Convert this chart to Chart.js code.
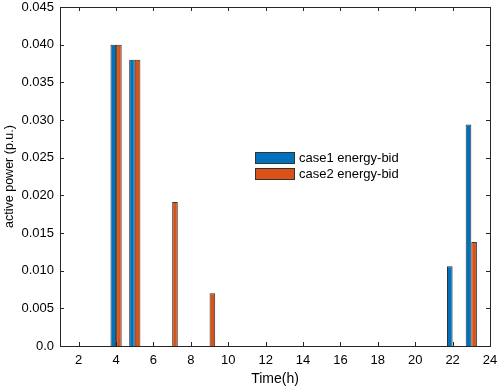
<!DOCTYPE html>
<html>
<head>
<meta charset="utf-8">
<script src="https://cdn.jsdelivr.net/npm/chart.js@4.4.0/dist/chart.umd.min.js"></script>
<style>
    html, body { margin: 0; padding: 0; background: #fff; }
</style>
</head>
<body>
<canvas id="active_power" width="498" height="389"></canvas>
<script>
// hours 1..24
const hours = ['1','2','3','4','5','6','7','8','9','10','11','12','13','14','15','16','17','18','19','20','21','22','23','24'];
const case1Bid = [0, 0, 0, 0.0400, 0.0380, 0, 0, 0, 0, 0, 0, 0, 0, 0, 0, 0, 0, 0, 0, 0, 0, 0.0106, 0.0294, 0];
const case2Bid = [0, 0, 0, 0.0400, 0.0380, 0, 0.0191, 0, 0.0070, 0, 0, 0, 0, 0, 0, 0, 0, 0, 0, 0, 0, 0, 0.0138, 0];
const yTickLabels = ['0.0', '0.005', '0.010', '0.015', '0.020', '0.025', '0.030', '0.035', '0.040', '0.045'];
const seriesNames = ['case1 energy-bid', 'case2 energy-bid'];

const axisColor = '#262626';
const fontFamily = '"Liberation Sans", Arial, sans-serif';

// zero bars are simply not drawn
const noZero = arr => arr.map(v => v === 0 ? null : v);

// matlab style box: top/right border + inward ticks
const boxTicks = {
    id: 'boxTicks',
    afterDraw(chart) {
        const ctx = chart.ctx;
        const a = chart.chartArea;
        const xs = chart.scales.x;
        const ys = chart.scales.y;
        const len = 4;
        ctx.save();
        ctx.strokeStyle = axisColor;
        ctx.lineWidth = 1;
        ctx.beginPath();
        ctx.moveTo(a.left, a.top + 0.5);
        ctx.lineTo(a.right + 0.5, a.top + 0.5);
        ctx.lineTo(a.right + 0.5, a.bottom);
        xs.ticks.forEach((t, i) => {
            if (Number(hours[i]) % 2 !== 0) return;
            const px = Math.round(xs.getPixelForTick(i)) + 0.5;
            ctx.moveTo(px, a.bottom);
            ctx.lineTo(px, a.bottom - len);
            ctx.moveTo(px, a.top);
            ctx.lineTo(px, a.top + len);
        });
        ys.ticks.forEach((t, i) => {
            const py = Math.round(ys.getPixelForTick(i)) + 0.5;
            ctx.moveTo(a.left, py);
            ctx.lineTo(a.left + len, py);
            ctx.moveTo(a.right, py);
            ctx.lineTo(a.right - len, py);
        });
        ctx.stroke();
        ctx.restore();
    }
};

// legend box inside the axes
const boxLegend = {
    id: 'boxLegend',
    afterDraw(chart) {
        const ctx = chart.ctx;
        const a = chart.chartArea;
        const x0 = Math.round(a.left + 0.454 * (a.right - a.left));
        const y0 = Math.round(a.top + 0.428 * (a.bottom - a.top));
        ctx.save();
        ctx.font = '13px ' + fontFamily;
        ctx.textBaseline = 'middle';
        chart.data.datasets.forEach((ds, i) => {
            const y = y0 + i * 16;
            ctx.fillStyle = ds.backgroundColor;
            ctx.fillRect(x0, y, 40, 12);
            ctx.strokeStyle = '#333';
            ctx.lineWidth = 1;
            ctx.strokeRect(x0 + 0.5, y + 0.5, 39, 11);
            ctx.fillStyle = '#000';
            ctx.fillText(ds.label, x0 + 44, y + 6.5);
        });
        ctx.restore();
    }
};

const ctx = document.getElementById('active_power').getContext('2d');
const powerChart = new Chart(ctx, {
    type: 'bar',
    data: {
        labels: hours,
        datasets: [
            {
                label: seriesNames[0],
                data: noZero(case1Bid),
                backgroundColor: '#0072BD',
                borderColor: '#333333',
                borderWidth: 1
            },
            {
                label: seriesNames[1],
                data: noZero(case2Bid),
                backgroundColor: '#D95319',
                borderColor: '#333333',
                borderWidth: 1
            }
        ]
    },
    options: {
        responsive: false,
        animation: false,
        devicePixelRatio: 1,
        categoryPercentage: 0.6,
        barPercentage: 1,
        layout: { padding: 0 },
        plugins: {
            legend: { display: false },
            tooltip: { enabled: false }
        },
        scales: {
            x: {
                offset: false,
                grid: { display: false, drawTicks: false },
                border: { display: true, color: axisColor, width: 1 },
                ticks: {
                    autoSkip: false,
                    maxRotation: 0,
                    padding: 7,
                    color: '#000',
                    font: { family: fontFamily, size: 13 },
                    callback: function(value, index) {
                        return Number(hours[index]) % 2 === 0 ? hours[index] : '';
                    }
                },
                title: {
                    display: true,
                    text: 'Time(h)',
                    color: '#000',
                    font: { family: fontFamily, size: 14 },
                    padding: { top: 0, bottom: 1 }
                },
                afterFit: function(scale) {
                    scale.height = 43;
                    scale.paddingLeft = 0;
                    scale.paddingRight = 8;
                }
            },
            y: {
                min: 0,
                max: 0.045,
                grid: { display: false, drawTicks: false },
                border: { display: true, color: axisColor, width: 1 },
                ticks: {
                    stepSize: 0.005,
                    padding: 6,
                    color: '#000',
                    font: { family: fontFamily, size: 13 },
                    callback: function(value, index) {
                        return yTickLabels[index];
                    }
                },
                title: {
                    display: true,
                    text: 'active power (p.u.)',
                    color: '#000',
                    font: { family: fontFamily, size: 12.5 },
                    padding: { top: 2, bottom: 0 }
                },
                afterFit: function(scale) {
                    scale.width = 60;
                    scale.paddingTop = 7;
                    scale.paddingBottom = 0;
                }
            }
        }
    },
    plugins: [boxTicks, boxLegend]
});
</script>
</body>
</html>
